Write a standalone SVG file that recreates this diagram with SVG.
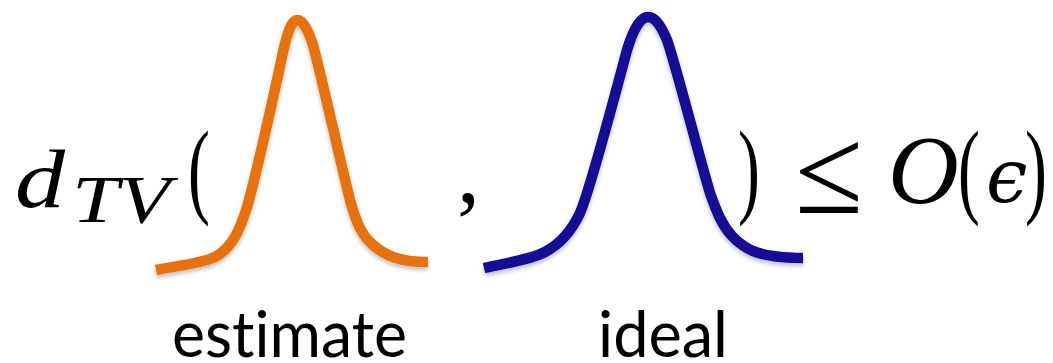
<svg xmlns="http://www.w3.org/2000/svg" width="1053" height="363" viewBox="0 0 1053 363">
  <style>
    .m { font-family: "Liberation Serif", "DejaVu Serif", serif; fill: #000; }
    .mi { font-family: "Liberation Serif", "DejaVu Serif", serif; font-style: italic; fill: #000; }
    .lbl { font-family: Lato, "Open Sans", "Liberation Sans", sans-serif; font-size: 64px; fill: #000; font-variant-ligatures: none; font-feature-settings: "liga" 0, "clig" 0; }
    .curve { fill: none; stroke-width: 10.5; stroke-linecap: butt; stroke-linejoin: round; filter: url(#sh); }
  </style>
  <defs>
    <filter id="sh" x="-10%" y="-10%" width="120%" height="130%">
      <feDropShadow dx="0" dy="3" stdDeviation="2" flood-color="#000" flood-opacity="0.25"/>
    </filter>
  </defs>
  <rect width="1053" height="363" fill="#fff"/>

  <g id="formula">
    <text class="mi" x="15" y="207" font-size="82" textLength="50" lengthAdjust="spacingAndGlyphs">d</text>
    <text class="mi" x="72" y="222" font-size="68" textLength="98" lengthAdjust="spacingAndGlyphs">TV</text>
    <text class="m" transform="translate(188,204) scale(0.62,1)" font-size="106">(</text>
    <text class="m" x="457" y="202" font-size="92">,</text>
    <text class="m" transform="translate(738,204) scale(0.62,1)" font-size="106">)</text>
    <text class="m" transform="translate(795,213) scale(1,1)" font-size="124">≤</text>
    <text class="mi" x="888" y="203" font-size="98">O</text>
    <text class="m" transform="translate(958,204) scale(0.62,1)" font-size="106">(</text>
    <text x="986" y="202" font-size="74" font-family="DejaVu Serif, serif" font-style="italic">ϵ</text>
    <text class="m" transform="translate(1025,204) scale(0.62,1)" font-size="106">)</text>
  </g>

  <g id="curve-estimate">
    <path class="curve" stroke="#E5720F" d="M156,270 C175,266 200,264 215,257 C232,248 240,230 247,207 C255,180 275,90 283,52 C288,30 292,20 297,20 C303,20 308,30 313,45 C320,70 340,160 350,200 C357,225 362,235 372,244 C385,256 400,262 428,262"/>
  </g>

  <g id="curve-ideal">
    <path class="curve" stroke="#120797" stroke-width="11.5" d="M484,268 C505,263 530,260 545,252 C560,244 572,230 580,213 C590,190 615,95 627,50 C633,30 640,17 648,17 C656,17 662,28 667,40 C675,62 700,160 710,193 C717,213 722,225 732,236 C745,250 760,258 803,258"/>
  </g>

  <g id="label-estimate">
    <text class="lbl" x="172" y="357" textLength="235" lengthAdjust="spacingAndGlyphs">estimate</text>
  </g>
  <g id="label-ideal">
    <text class="lbl" x="598" y="357" textLength="130" lengthAdjust="spacingAndGlyphs">ideal</text>
  </g>
</svg>
